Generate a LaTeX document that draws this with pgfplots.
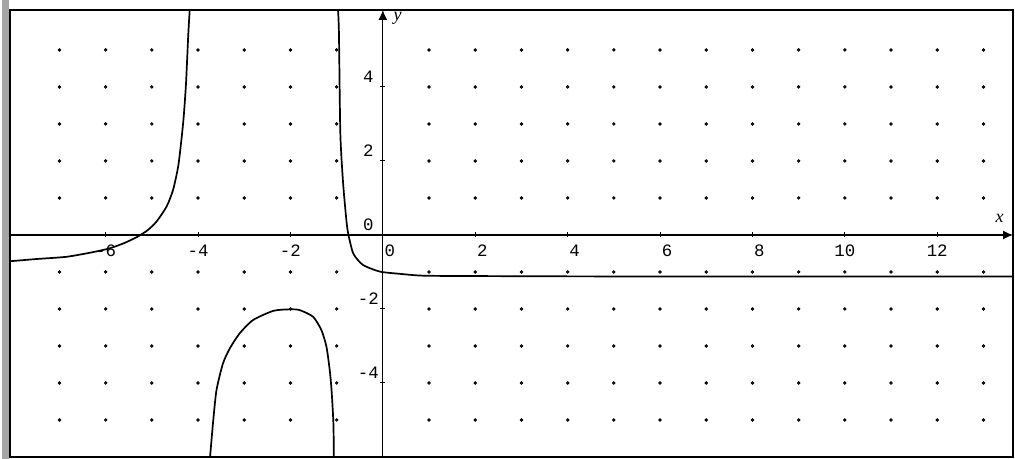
\documentclass[border=0pt]{standalone}
\usepackage{fontspec}
\setmainfont{Liberation Serif}
\setmonofont{Liberation Mono}
\usepackage{pgfplots}
\pgfplotsset{compat=1.18}
\usetikzlibrary{arrows.meta}
\begin{document}
\begin{tikzpicture}
  % fixed page size: 1 px of the reference = 0.5pt
  \path[use as bounding box] (-5pt,-1pt) rectangle (502.5pt,228.5pt);
  \fill[black!35] (-4pt,-1pt) rectangle (-0.6pt,228.5pt);
  \begin{axis}[
    at={(0,0)}, anchor=south west,
    scale only axis,
    width=501.5pt, height=223.5pt,
    xmin=-8.07, xmax=13.64,
    ymin=-6.0, ymax=6.08,
    axis lines=middle,
    axis line style={line width=0.6pt, -{Latex[length=5pt,width=4.5pt]}},
    hide obscured x ticks=false,
    hide obscured y ticks=false,
    xtick={-6,-4,-2,10,12},
    extra x ticks={0,2,4,6,8},
    extra x tick style={xticklabel style={xshift=3.5pt}},
    ytick={-4,-2,0,2,4},
    major tick length=2.5pt,
    tick style={black, line width=0.5pt},
    /pgf/number format/assume math mode=true,
    ticklabel style={font=\ttfamily\fontsize{8.7}{10}\selectfont, text=black},
    xticklabel style={anchor=center, yshift=-6.5pt},
    yticklabel style={anchor=center, xshift=-6pt, yshift=5pt},
    xlabel={\itshape x},
    ylabel={\itshape y},
    every axis x label/.style={at={(axis cs:13.35,0.46)}, anchor=center, font=\fontsize{9}{10}\selectfont},
    every axis y label/.style={at={(axis cs:0.32,5.86)}, anchor=center, font=\fontsize{9}{10}\selectfont},
  ]
    % dot grid
    \pgfplotsinvokeforeach{-7,-6,-5,-4,-3,-2,-1,1,2,3,4,5,6,7,8,9,10,11,12,13}{
      \addplot[only marks, mark=*, mark size=0.65pt, draw=none, mark options={fill=black!80, draw=none}]
        coordinates {(#1,-5)(#1,-4)(#1,-3)(#1,-2)(#1,-1)(#1,1)(#1,2)(#1,3)(#1,4)(#1,5)};
    }
    % left branch
    \addplot[black, line width=0.85pt, smooth, tension=0.4] coordinates {
      (-8.07,-0.71)(-7.5,-0.65)(-6.85,-0.59)(-6.3,-0.47)(-5.91,-0.36)(-5.6,-0.22)
      (-5.33,-0.06)(-5.1,0.12)(-4.9,0.36)(-4.68,0.77)(-4.54,1.22)(-4.43,1.85)
      (-4.36,2.57)(-4.31,3.2)(-4.26,4.1)(-4.21,5.45)(-4.18,6.08)
    };
    % middle branch
    \addplot[black, line width=0.85pt, smooth, tension=0.4] coordinates {
      (-3.74,-6.0)(-3.67,-5.0)(-3.60,-4.19)(-3.46,-3.47)(-3.31,-3.06)(-3.10,-2.66)
      (-2.81,-2.30)(-2.37,-2.05)(-2.01,-2.01)(-1.80,-2.03)(-1.51,-2.21)(-1.33,-2.57)
      (-1.22,-3.02)(-1.15,-3.65)(-1.11,-4.19)(-1.07,-5.09)(-1.06,-6.0)
    };
    % right branch
    \addplot[black, line width=0.85pt, smooth, tension=0.4] coordinates {
      (-0.97,6.08)(-0.95,5.45)(-0.92,2.75)(-0.86,1.40)(-0.79,0.41)(-0.75,0.04)
      (-0.64,-0.50)(-0.43,-0.81)(-0.06,-0.99)(0.37,-1.05)(0.87,-1.10)(2,-1.11)
      (5,-1.12)(13.64,-1.12)
    };
  \end{axis}
  \draw[line width=1.3pt] (0,0) rectangle (501.5pt,223.5pt);
\end{tikzpicture}
\end{document}
